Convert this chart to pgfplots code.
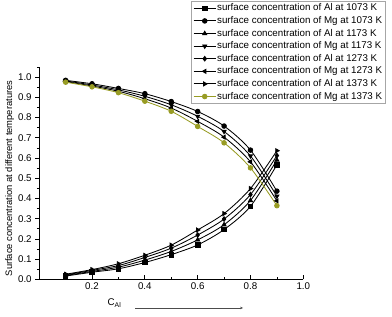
\documentclass[border=0pt]{standalone}
\usepackage{pgfplots}
\pgfplotsset{compat=1.18}
\usepackage{fontspec}
\setmainfont{Liberation Sans}
\usetikzlibrary{arrows.meta}
\definecolor{olivec}{RGB}{152,156,36}
\begin{document}
\begin{tikzpicture}
\useasboundingbox (-39.2bp,-37.7bp) rectangle (352.8bp,279.3bp);
\begin{axis}[
  at={(0,0)}, anchor=south west,
  scale only axis, width=264.1bp, height=212.3bp,
  xmin=0, xmax=1, ymin=0, ymax=1.05,
  axis x line*=bottom, axis y line*=left,
  axis line style={line width=0.7bp},
  xtick={0.2,0.4,0.6,0.8,1.0},
  minor xtick={0.1,0.3,0.5,0.7,0.9},
  ytick={0,0.1,...,1.0},
  minor ytick={0.05,0.15,...,1.0},
  xtick align=inside, ytick align=outside,
  major tick length=4bp, minor tick length=2.2bp,
  tick style={line width=0.7bp, black},
  /pgf/number format/assume math mode=true,
  /pgf/number format/.cd, fixed, fixed zerofill, precision=1, /pgfplots/.cd,
  tick label style={font=\fontsize{9.8}{11}\selectfont},
  ylabel={Surface concentration at different temperatures},
  every axis y label/.style={at={(axis description cs:-0.112,0.475)},rotate=90,anchor=center,font=\fontsize{9.4}{10}\selectfont},
  clip=false,
  every axis plot/.append style={line width=0.85bp, smooth, mark size=2.3bp},
  legend style={at={(rel axis cs:0.575,1.311)}, anchor=north west, draw=gray!70, line width=0.5bp,
    font=\fontsize{9.8}{10}\selectfont, inner xsep=2bp, inner ysep=1.5bp,
    nodes={inner sep=1bp, text height=7.2bp, text depth=2bp}, row sep=1.4bp,
    /tikz/every even column/.append style={column sep=2bp}},
  legend cell align=left,
  legend image code/.code={\draw[mark repeat=2,mark phase=2] plot coordinates {(0bp,0bp)(11bp,0bp)(22bp,0bp)};},
]
\addplot[black, mark=square*] coordinates {(0.1,0.016)(0.2,0.035)(0.3,0.052)(0.4,0.083)(0.5,0.122)(0.6,0.170)(0.7,0.246)(0.8,0.361)(0.9,0.566)};
\addlegendentry{surface concentration of Al at  1073 K}
\addplot[black, mark=*] coordinates {(0.1,0.984)(0.2,0.967)(0.3,0.944)(0.4,0.918)(0.5,0.879)(0.6,0.830)(0.7,0.758)(0.8,0.639)(0.9,0.436)};
\addlegendentry{surface concentration of Mg at 1073 K}
\addplot[black, mark=triangle*] coordinates {(0.1,0.019)(0.2,0.039)(0.3,0.060)(0.4,0.095)(0.5,0.138)(0.6,0.195)(0.7,0.270)(0.8,0.390)(0.9,0.590)};
\addlegendentry{surface concentration of Al at  1173 K}
\addplot[black, mark=triangle*, mark options={rotate=180}] coordinates {(0.1,0.981)(0.2,0.961)(0.3,0.937)(0.4,0.905)(0.5,0.863)(0.6,0.806)(0.7,0.731)(0.8,0.610)(0.9,0.411)};
\addlegendentry{surface concentration of Mg at 1173 K}
\addplot[black, mark=diamond*] coordinates {(0.1,0.022)(0.2,0.044)(0.3,0.068)(0.4,0.108)(0.5,0.154)(0.6,0.219)(0.7,0.298)(0.8,0.419)(0.9,0.612)};
\addlegendentry{surface concentration of Al at  1273 K}
\addplot[black, mark=triangle*, mark options={rotate=90}] coordinates {(0.1,0.978)(0.2,0.956)(0.3,0.930)(0.4,0.893)(0.5,0.847)(0.6,0.781)(0.7,0.703)(0.8,0.581)(0.9,0.388)};
\addlegendentry{surface concentration of Mg at 1273 K}
\addplot[black, mark=triangle*, mark options={rotate=-90}] coordinates {(0.1,0.025)(0.2,0.048)(0.3,0.077)(0.4,0.119)(0.5,0.169)(0.6,0.244)(0.7,0.325)(0.8,0.449)(0.9,0.636)};
\addlegendentry{surface concentration of Al at  1373 K}
\addplot[olivec, mark=*] coordinates {(0.1,0.975)(0.2,0.952)(0.3,0.923)(0.4,0.881)(0.5,0.831)(0.6,0.756)(0.7,0.675)(0.8,0.551)(0.9,0.364)};
\addlegendentry{surface concentration of Mg at 1373 K}
\node[font=\fontsize{9.8}{10}\selectfont, anchor=center] at (rel axis cs:0.285,-0.112) {C\textsubscript{Al}};
\draw[gray!60!black, line width=0.5bp, -{Stealth[length=3bp,width=2.5bp]}] (rel axis cs:0.363,-0.135) -- (rel axis cs:0.772,-0.135);
\end{axis}
\end{tikzpicture}
\end{document}
